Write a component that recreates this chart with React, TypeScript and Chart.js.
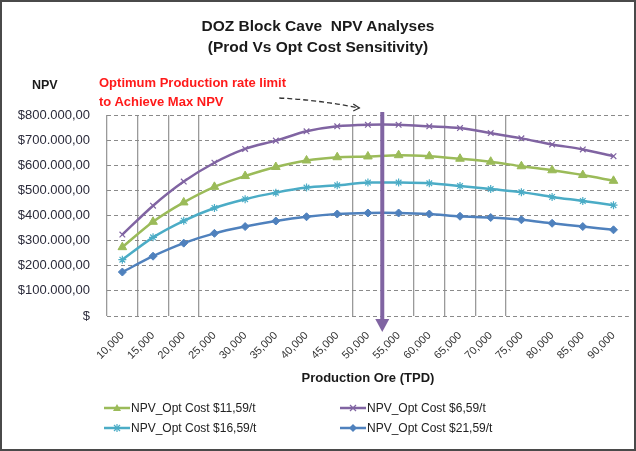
import React, { useEffect, useRef } from "react";
import { Chart, registerables } from "chart.js";

Chart.register(...registerables);

const categories = [
  "10,000", "15,000", "20,000", "25,000", "30,000", "35,000", "40,000", "45,000", "50,000",
  "55,000", "60,000", "65,000", "70,000", "75,000", "80,000", "85,000", "90,000",
];

const npvCost1159 = [274000, 375000, 452000, 514000, 557000, 593000, 619000, 632000, 635000, 640000, 636000, 626000, 614000, 596000, 580000, 561000, 538000];
const npvCost659 = [324000, 439000, 535000, 610000, 665000, 698000, 735000, 755000, 761000, 761000, 755000, 748000, 728000, 707000, 683000, 663000, 636000];
const npvCost1659 = [224000, 313000, 379000, 430000, 465000, 491000, 511000, 520000, 531000, 531000, 528000, 517000, 505000, 493000, 474000, 458000, 441000];
const npvCost2159 = [175000, 238000, 290000, 329000, 356000, 378000, 395000, 406000, 410000, 410000, 406000, 397000, 392000, 383000, 369000, 356000, 343000];

const seriesLabels = [
  "NPV_Opt Cost $11,59/t",
  "NPV_Opt Cost $6,59/t",
  "NPV_Opt Cost $16,59/t",
  "NPV_Opt Cost $21,59/t",
];
const seriesColors = ["#9BBB59", "#8064A2", "#4BACC6", "#4F81BD"];
const seriesMarkers = ["triangle", "crossRot", "star", "rectRot"];

const optimumIndex = 8.5; // between 50,000 and 55,000

const visibleVGrid = new Set([0, 1, 2, 3, 8, 10, 11, 12, 13]);

function fmtY(v: number): string {
  if (v === 0) return "$";
  const s = Math.round(v).toString().replace(/\B(?=(\d{3})+(?!\d))/g, ".");
  return "$" + s + ",00";
}

const arrowsPlugin = {
  id: "arrows",
  afterDatasetsDraw(chart: any) {
    const { ctx, chartArea, scales } = chart;
    const x = scales.x.getPixelForValue(optimumIndex) - 1;
    const top = chartArea.top - 3;
    const bottom = chartArea.bottom + 5;
    ctx.save();
    ctx.strokeStyle = "#8064A2";
    ctx.fillStyle = "#8064A2";
    ctx.lineWidth = 4;
    ctx.beginPath();
    ctx.moveTo(x, top);
    ctx.lineTo(x, bottom);
    ctx.stroke();
    ctx.beginPath();
    ctx.moveTo(x - 7, bottom - 2);
    ctx.lineTo(x + 7, bottom - 2);
    ctx.lineTo(x, bottom + 11);
    ctx.closePath();
    ctx.fill();

    // dashed pointer arrow from annotation
    const x0 = x - 103, y0 = chartArea.top - 17;
    const x1 = x - 23, y1 = chartArea.top - 7;
    ctx.strokeStyle = "#333";
    ctx.lineWidth = 1.3;
    ctx.setLineDash([5, 3]);
    ctx.beginPath();
    ctx.moveTo(x0, y0);
    ctx.quadraticCurveTo((x0 + x1) / 2, y0 + 2, x1, y1);
    ctx.stroke();
    ctx.setLineDash([]);
    ctx.beginPath();
    ctx.moveTo(x1 - 6, y1 - 4);
    ctx.lineTo(x1, y1);
    ctx.lineTo(x1 - 6, y1 + 3);
    ctx.stroke();
    ctx.restore();
  },
};

export default function App() {
  const canvasRef = useRef<HTMLCanvasElement | null>(null);

  useEffect(() => {
    if (!canvasRef.current) return;
    const dataSets = [npvCost1159, npvCost659, npvCost1659, npvCost2159];
    const chart = new Chart(canvasRef.current, {
      type: "line",
      data: {
        labels: categories,
        datasets: dataSets.map((d, i) => ({
          label: seriesLabels[i],
          data: d,
          borderColor: seriesColors[i],
          backgroundColor: seriesColors[i],
          borderWidth: 2.5,
          tension: 0.3,
          pointStyle: seriesMarkers[i] as any,
          pointRadius: i === 0 ? 5 : 4,
          pointBorderWidth: i === 0 || i === 3 ? 1 : 1.2,
          pointBorderColor: seriesColors[i],
          pointBackgroundColor: seriesColors[i],
          fill: false,
        })),
      },
      options: {
        animation: false,
        responsive: false,
        maintainAspectRatio: false,
        layout: { padding: { left: 4, right: 5, top: 115, bottom: 63 } },
        plugins: {
          legend: { display: false },
          title: { display: false },
          tooltip: { enabled: false },
        },
        scales: {
          x: {
            type: "category",
            offset: true,
            afterFit: (s: any) => { s.height = 72; },
            grid: {
              offset: true,
              drawTicks: false,
              color: (c: any) => (visibleVGrid.has(c.index) ? "#9a9a9a" : "rgba(0,0,0,0)"),
              lineWidth: 1.3,
            },
            border: { display: false },
            ticks: {
              minRotation: 45,
              maxRotation: 45,
              autoSkip: false,
              padding: 13,
              color: "#333",
              font: { family: "Arial, 'Liberation Sans', sans-serif", size: 11 },
            },
            title: {
              display: true,
              text: "Production Ore (TPD)",
              color: "#1a1a1a",
              font: { family: "Arial, 'Liberation Sans', sans-serif", size: 13, weight: "bold" },
              padding: { top: 0, bottom: 2 },
            },
          },
          y: {
            min: 0,
            max: 800000,
            afterFit: (s: any) => { s.width = 103; },
            grid: {
              drawTicks: false,
              color: "#8a8a8a",
              lineWidth: 1,
            },
            border: { display: false, dash: [4, 3] },
            ticks: {
              stepSize: 100000,
              padding: 17,
              color: "#2a2a3a",
              font: { family: "Arial, 'Liberation Sans', sans-serif", size: 13 },
              callback: (v: any) => fmtY(Number(v)),
            },
          },
        },
      },
      plugins: [arrowsPlugin],
    });
    return () => chart.destroy();
  }, []);

  const legendItem = (i: number) => (
    <div style={{ display: "flex", alignItems: "center", height: 20 }}>
      <svg width={26} height={12} style={{ marginRight: 1 }}>
        <line x1={0} y1={6} x2={26} y2={6} stroke={seriesColors[i]} strokeWidth={2.5} />
        {i === 0 && <polygon points="13,2 17,9 9,9" fill={seriesColors[i]} />}
        {i === 1 && (
          <g stroke={seriesColors[i]} strokeWidth={1.2}>
            <line x1={10} y1={3} x2={16} y2={9} />
            <line x1={16} y1={3} x2={10} y2={9} />
          </g>
        )}
        {i === 2 && (
          <g stroke={seriesColors[i]} strokeWidth={1.2}>
            <line x1={10} y1={3} x2={16} y2={9} />
            <line x1={16} y1={3} x2={10} y2={9} />
            <line x1={13} y1={2} x2={13} y2={10} />
          </g>
        )}
        {i === 3 && <polygon points="13,2 17,6 13,10 9,6" fill={seriesColors[i]} />}
      </svg>
      <span>{seriesLabels[i]}</span>
    </div>
  );

  const textFont = "Arial, 'Liberation Sans', sans-serif";

  return (
    <div style={{ position: "absolute", left: 0, top: 0, width: 636, height: 451, background: "#fff", overflow: "hidden" }}>
      <canvas ref={canvasRef} width={636} height={451} style={{ position: "absolute", left: 0, top: 0, width: 636, height: 451 }} />
      <div style={{ position: "absolute", left: 0, top: 15, width: 636, textAlign: "center", fontFamily: textFont, fontWeight: "bold", fontSize: 15.5, lineHeight: "21px", color: "#1a1a1a" }}>
        <div>DOZ Block Cave&nbsp; NPV Analyses</div>
        <div>(Prod Vs Opt Cost Sensitivity)</div>
      </div>
      <div style={{ position: "absolute", left: 32, top: 78, fontFamily: textFont, fontWeight: "bold", fontSize: 12.5, color: "#1a1a1a" }}>NPV</div>
      <div style={{ position: "absolute", left: 99, top: 73, fontFamily: textFont, fontWeight: "bold", fontSize: 13, lineHeight: "19px", color: "#ff1a1a" }}>
        <div>Optimum Production rate limit</div>
        <div>to Achieve Max NPV</div>
      </div>
      <div style={{ position: "absolute", left: 104, top: 398, fontFamily: textFont, fontSize: 12, color: "#222", display: "grid", gridTemplateColumns: "236px 240px" }}>
        {legendItem(0)}
        {legendItem(1)}
        {legendItem(2)}
        {legendItem(3)}
      </div>
      <div style={{ position: "absolute", left: 0, top: 0, width: 636, height: 451, boxSizing: "border-box", border: "2px solid #4a4a4a", pointerEvents: "none" }} />
    </div>
  );
}
